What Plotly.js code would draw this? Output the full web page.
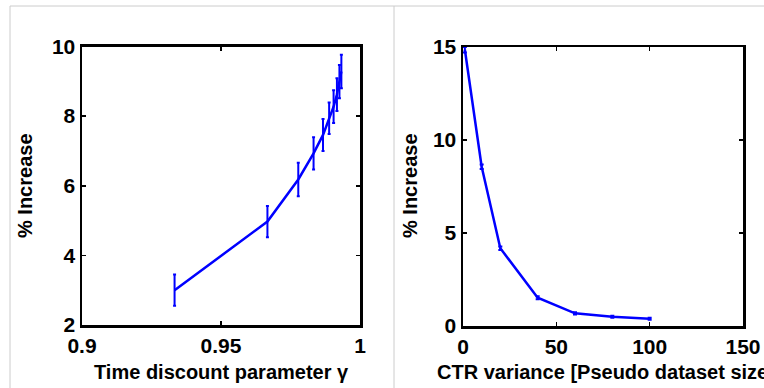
<!DOCTYPE html>
<html>
<head>
<meta charset="utf-8">
<script src="https://cdn.plot.ly/plotly-3.0.1.min.js"></script>
<style>html,body{margin:0;padding:0;background:#fff;}#chart{width:764px;height:388px;}</style>
</head>
<body>
<div id="chart"></div>
<script>
// Left panel: time discount parameter gamma vs % increase
const gammaValues = [0.9333, 0.9667, 0.9778, 0.9833, 0.9867, 0.9889, 0.9905, 0.9917, 0.9926, 0.9933];
const gammaIncrease = [3.0, 4.97, 6.18, 6.93, 7.46, 7.94, 8.27, 8.62, 8.99, 9.28];
const gammaError = [0.45, 0.45, 0.48, 0.46, 0.46, 0.45, 0.47, 0.47, 0.48, 0.48];

// Right panel: CTR variance (pseudo dataset size) vs % increase
const ctrVariance = [1, 10, 20, 40, 60, 80, 100];
const ctrIncrease = [14.85, 8.56, 4.18, 1.52, 0.68, 0.50, 0.39];
const ctrError = [0.15, 0.12, 0.1, 0.08, 0.06, 0.05, 0.05];

const leftXTicks = [0.9, 0.95, 1];
const leftXTickText = ['0.9', '0.95', '1'];
const leftYTicks = [2, 4, 6, 8, 10];
const rightXTicks = [0, 50, 100, 150];
const rightYTicks = [0, 5, 10, 15];

const W = 764, H = 388;
const fx = p => p / W;
const fy = p => 1 - p / H;

const blue = '#0000ff';
const font = {family: 'Liberation Sans, Arial, sans-serif', size: 21, color: '#000'};

const axisBase = {
  showgrid: false, zeroline: false, showline: true, linecolor: '#000', linewidth: 2.5,
  mirror: 'ticks', ticks: 'inside', ticklen: 4, tickwidth: 1.5, tickcolor: '#000',
  tickfont: {family: font.family, size: 21, color: '#000', weight: 'bold'},
  fixedrange: true
};

const traces = [
  {
    x: gammaValues, y: gammaIncrease, type: 'scatter', mode: 'lines',
    line: {color: blue, width: 2.5},
    error_y: {type: 'data', array: gammaError, visible: true, color: blue, thickness: 2, width: 1.5},
    xaxis: 'x', yaxis: 'y', hoverinfo: 'skip'
  },
  {
    x: ctrVariance, y: ctrIncrease, type: 'scatter', mode: 'lines',
    line: {color: blue, width: 2.5},
    error_y: {type: 'data', array: ctrError, visible: true, color: blue, thickness: 2, width: 2},
    xaxis: 'x2', yaxis: 'y2', hoverinfo: 'skip'
  }
];

const layout = {
  width: W, height: H,
  margin: {l: 0, r: 0, t: 0, b: 0},
  paper_bgcolor: '#fff', plot_bgcolor: '#fff',
  showlegend: false,
  font: font,
  xaxis: Object.assign({}, axisBase, {
    domain: [fx(82), fx(360)], range: [0.9, 1], tickvals: leftXTicks, ticktext: leftXTickText,
    anchor: 'y'
  }),
  yaxis: Object.assign({}, axisBase, {
    domain: [fy(325), fy(46.5)], range: [2, 10], tickvals: leftYTicks, anchor: 'x'
  }),
  xaxis2: Object.assign({}, axisBase, {
    domain: [fx(463), fx(743)], range: [0, 150], tickvals: rightXTicks, anchor: 'y2'
  }),
  yaxis2: Object.assign({}, axisBase, {
    domain: [fy(326), fy(47)], range: [0, 15], tickvals: rightYTicks, anchor: 'x2'
  }),
  shapes: [
    {type: 'line', xref: 'paper', yref: 'paper', x0: fx(10), x1: 1, y0: fy(6), y1: fy(6), line: {color: '#cccccc', width: 1}},
    {type: 'line', xref: 'paper', yref: 'paper', x0: fx(10), x1: fx(10), y0: 0, y1: fy(6), line: {color: '#cccccc', width: 1}},
    {type: 'line', xref: 'paper', yref: 'paper', x0: fx(394), x1: fx(394), y0: 0, y1: fy(6), line: {color: '#cccccc', width: 1}}
  ],
  annotations: [
    {text: '<b>Time discount parameter γ</b>', xref: 'paper', yref: 'paper', x: fx(221), y: fy(372),
     showarrow: false, xanchor: 'center', yanchor: 'middle', font: {family: font.family, size: 20, color: '#000'}},
    {text: '<b>% Increase</b>', xref: 'paper', yref: 'paper', x: fx(25), y: fy(186), textangle: -90,
     showarrow: false, xanchor: 'center', yanchor: 'middle', font: {family: font.family, size: 20, color: '#000'}},
    {text: '<b>CTR variance [Pseudo dataset size]</b>', xref: 'paper', yref: 'paper', x: fx(435), y: fy(372),
     showarrow: false, xanchor: 'left', yanchor: 'middle', font: {family: font.family, size: 20, color: '#000'}},
    {text: '<b>% Increase</b>', xref: 'paper', yref: 'paper', x: fx(410), y: fy(186), textangle: -90,
     showarrow: false, xanchor: 'center', yanchor: 'middle', font: {family: font.family, size: 20, color: '#000'}}
  ]
};

Plotly.newPlot('chart', traces, layout, {staticPlot: true, displayModeBar: false});
</script>
</body>
</html>
